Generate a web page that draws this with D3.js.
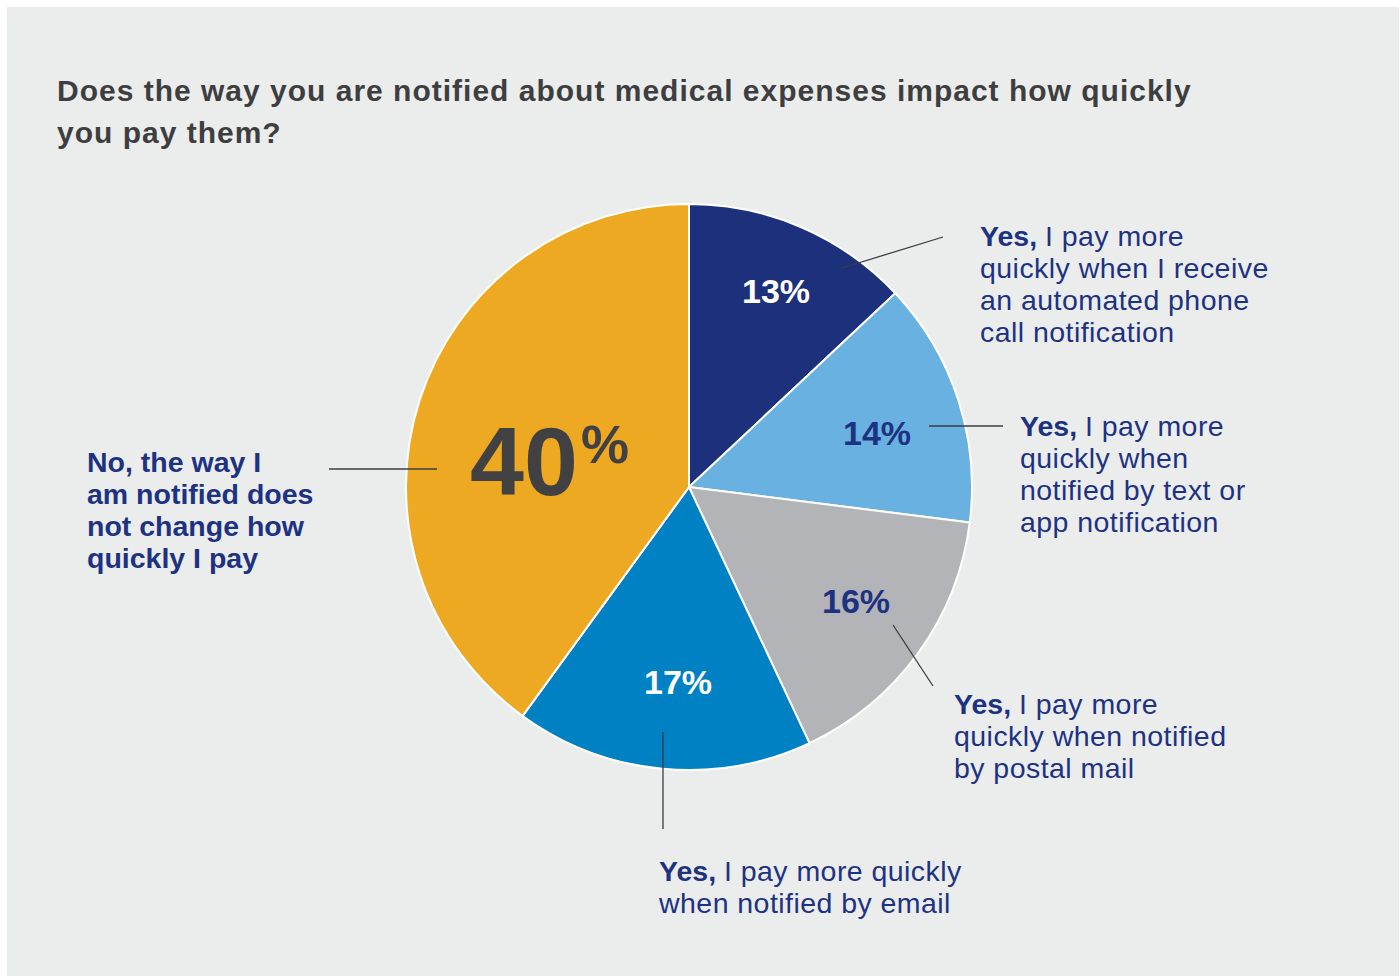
<!DOCTYPE html>
<html>
<head>
<meta charset="utf-8">
<script src="https://cdn.jsdelivr.net/npm/d3@7"></script>
<style>
  html, body { margin: 0; padding: 0; background: #ffffff; }
  svg { display: block; }
  text { font-family: "Liberation Sans", Arial, Helvetica, sans-serif; }
</style>
</head>
<body>
<svg id="chart" width="1400" height="976"></svg>
<script>
// Survey responses, clockwise from 12 o'clock
const categories = ["phone", "text", "mail", "email", "none"];
const values = [13, 14, 16, 17, 40];
const valueLabels = ["13%", "14%", "16%", "17%", "40%"];
const sliceColors = ["#1c307c", "#68b1e0", "#b2b4b7", "#0081c4", "#eda921"];
const answerLead = ["Yes,", "Yes,", "Yes,", "Yes,", ""];
const answerLines = [
  ["I pay more", "quickly when I receive", "an automated phone", "call notification"],
  ["I pay more", "quickly when", "notified by text or", "app notification"],
  ["I pay more", "quickly when notified", "by postal mail"],
  ["I pay more quickly", "when notified by email"],
  ["No, the way I", "am notified does", "not change how", "quickly I pay"]
];
const titleLines = [
  "Does the way you are notified about medical expenses impact how quickly",
  "you pay them?"
];

const W = 1400, H = 976;
const cx = 689, cy = 487, R = 283;
const navyText = "#1e3282";

const svg = d3.select("#chart");

// Panel background
svg.append("rect").attr("x", 7).attr("y", 7).attr("width", W - 8).attr("height", H - 7)
  .attr("fill", "#ebeded");

// Title
svg.append("g").selectAll("text").data(titleLines).join("text")
  .attr("x", 57).attr("y", (d, i) => 101 + i * 42)
  .attr("font-size", 30).attr("font-weight", "bold").attr("fill", "#3e3e40")
  .attr("letter-spacing", 1.0)
  .text(d => d);

// Pie
const pie = d3.pie().sort(null).value(d => d)(values);
const arc = d3.arc().innerRadius(0).outerRadius(R);
const color = d3.scaleOrdinal().domain(categories).range(sliceColors);

const g = svg.append("g").attr("transform", `translate(${cx},${cy})`);
g.selectAll("path").data(pie).join("path")
  .attr("d", arc)
  .attr("fill", (d, i) => color(categories[i]))
  .attr("stroke", "#ffffff").attr("stroke-width", 2).attr("stroke-linejoin", "round");

// Label placement per slice (offsets relative to pie centre)
const layout = [
  { pct: [87, -184], pctColor: "#ffffff", line: [[153, -219], [254, -250]], text: [291, -241] },
  { pct: [188, -42], pctColor: navyText, line: [[240, -61], [314, -61]], text: [331, -51] },
  { pct: [167, 126], pctColor: navyText, line: [[204, 138], [244, 199]], text: [265, 227] },
  { pct: [-11, 207], pctColor: "#ffffff", line: [[-26, 245], [-26, 342]], text: [-30, 394] },
  { pct: null, pctColor: "#414042", line: [[-360, -18], [-252, -18]], text: [-602, -15] }
];

const ann = svg.append("g").attr("transform", `translate(${cx},${cy})`);

// Leader lines
ann.selectAll("line").data(layout).join("line")
  .attr("x1", d => d.line[0][0]).attr("y1", d => d.line[0][1])
  .attr("x2", d => d.line[1][0]).attr("y2", d => d.line[1][1])
  .attr("stroke", "#3d3d3f").attr("stroke-width", 1.3);

// Percentage labels
layout.forEach((L, i) => {
  if (L.pct) {
    ann.append("text")
      .attr("x", L.pct[0]).attr("y", L.pct[1])
      .attr("text-anchor", "middle")
      .attr("font-size", 34).attr("font-weight", "bold").attr("fill", L.pctColor)
      .text(valueLabels[i]);
  }
});

// The large share gets an oversized number with a raised percent sign
const big = valueLabels[4].replace("%", "");
const bigText = ann.append("text")
  .attr("x", -219).attr("y", 8)
  .attr("font-weight", "bold").attr("fill", "#414042");
bigText.append("tspan").attr("font-size", 97).text(big);
bigText.append("tspan").attr("font-size", 54).attr("dx", 3).attr("dy", -32).text("%");

// Answer texts
layout.forEach((L, i) => {
  const t = ann.append("text")
    .attr("x", L.text[0]).attr("y", L.text[1])
    .attr("font-size", 28.5).attr("fill", navyText);
  answerLines[i].forEach((line, j) => {
    const span = t.append("tspan").attr("x", L.text[0]).attr("dy", j === 0 ? 0 : 32);
    if (j === 0 && answerLead[i]) {
      span.append("tspan").attr("font-weight", "bold").text(answerLead[i] + " ");
      span.append("tspan").attr("letter-spacing", 0.45).text(line);
    } else if (i === 4) {
      span.attr("font-weight", "bold").text(line);
    } else {
      span.attr("letter-spacing", 0.45).text(line);
    }
  });
});
</script>
</body>
</html>
